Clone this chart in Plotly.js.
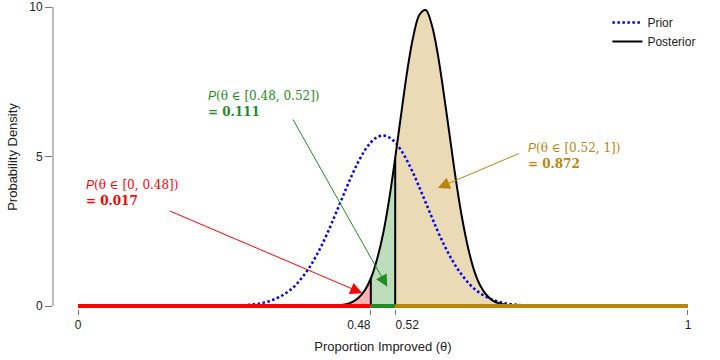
<!DOCTYPE html>
<html><head><meta charset="utf-8">
<script src="https://cdn.plot.ly/plotly-3.0.1.min.js"></script>
<style>html,body{margin:0;padding:0;background:#fff}#chart{width:720px;height:360px}</style>
</head><body><div id="chart"></div>
<script>
// Posterior density
const postTheta = [0, 0.40, 0.42, 0.43, 0.44, 0.45, 0.46, 0.47, 0.48, 0.49, 0.50, 0.51, 0.52, 0.53, 0.54, 0.55, 0.56, 0.57, 0.58, 0.59, 0.60, 0.61, 0.62, 0.63, 0.64, 0.65, 0.66, 0.67, 0.68, 0.69, 0.70, 0.71, 0.72, 0.74, 1];
const postDens  = [0, 0.00, 0.01, 0.03, 0.06, 0.14, 0.28, 0.52, 0.92, 1.55, 2.40, 3.55, 4.95, 6.45, 7.90, 9.05, 9.75, 9.90, 9.40, 8.40, 7.05, 5.60, 4.15, 2.90, 1.90, 1.15, 0.66, 0.36, 0.18, 0.09, 0.04, 0.02, 0.01, 0.00, 0];
// Prior density
const priorTheta = [0.27, 0.28, 0.29, 0.30, 0.31, 0.32, 0.33, 0.34, 0.35, 0.36, 0.37, 0.38, 0.39, 0.40, 0.41, 0.42, 0.43, 0.44, 0.45, 0.46, 0.47, 0.48, 0.49, 0.50,
                    0.51, 0.52, 0.53, 0.54, 0.55, 0.56, 0.57, 0.58, 0.59, 0.60, 0.61, 0.62, 0.63, 0.64, 0.65, 0.66, 0.67, 0.68, 0.69, 0.70, 0.71, 0.72, 0.73];
const priorDens  = [0.02, 0.04, 0.06, 0.09, 0.14, 0.21, 0.30, 0.42, 0.57, 0.77, 1.02, 1.31, 1.66, 2.05, 2.49, 2.97, 3.46, 3.95, 4.42, 4.84, 5.20, 5.47, 5.64, 5.70,
                    5.64, 5.47, 5.20, 4.84, 4.42, 3.95, 3.46, 2.97, 2.49, 2.05, 1.66, 1.31, 1.02, 0.77, 0.57, 0.42, 0.30, 0.21, 0.14, 0.09, 0.06, 0.04, 0.02];
const cutLow = 0.48, cutHigh = 0.52;
const regionLabels = ['[0, 0.48]', '[0.48, 0.52]', '[0.52, 1]'];
const regionProbs  = ['0.017', '0.111', '0.872'];
const xTickVals = [0, 0.48, 0.52, 1];
const xTickText = ['0', '0.48', '0.52', '1'];
const yTickVals = [0, 5, 10];
const yTickText = ['0', '5', '10'];

const RED = '#FF0000', GREEN = '#228B22', GOLD = '#B8860B';

function segment(lo, hi) {
  const xs = [], ys = [];
  postTheta.forEach((t, i) => { if (t >= lo - 1e-9 && t <= hi + 1e-9) { xs.push(t); ys.push(postDens[i]); } });
  return {xs, ys};
}
const sR = segment(0, cutLow), sG = segment(cutLow, cutHigh), sT = segment(cutHigh, 1);
const dLow = postDens[postTheta.indexOf(cutLow)], dHigh = postDens[postTheta.indexOf(cutHigh)];

const traces = [
  {x: sR.xs, y: sR.ys, mode: 'none', fill: 'tozeroy', fillcolor: 'rgba(255,0,0,0.3)', line: {shape: 'spline'}, showlegend: false, hoverinfo: 'skip'},
  {x: sG.xs, y: sG.ys, mode: 'none', fill: 'tozeroy', fillcolor: 'rgba(34,139,34,0.3)', line: {shape: 'spline'}, showlegend: false, hoverinfo: 'skip'},
  {x: sT.xs, y: sT.ys, mode: 'none', fill: 'tozeroy', fillcolor: 'rgba(184,134,11,0.3)', line: {shape: 'spline'}, showlegend: false, hoverinfo: 'skip'},
  {x: priorTheta, y: priorDens, mode: 'lines', name: 'Prior', line: {color: '#0000EE', width: 2.5, dash: '2.5px,2.5px', shape: 'spline'}},
  {x: postTheta, y: postDens, mode: 'lines', name: 'Posterior', line: {color: '#000', width: 2, shape: 'spline'}},
  {x: [cutLow, cutLow], y: [0, dLow], mode: 'lines', line: {color: '#000', width: 2}, showlegend: false, hoverinfo: 'skip'},
  {x: [cutHigh, cutHigh], y: [0, dHigh], mode: 'lines', line: {color: '#000', width: 2}, showlegend: false, hoverinfo: 'skip'},
  {x: [0, cutLow], y: [0, 0], mode: 'lines', line: {color: RED, width: 4}, showlegend: false, hoverinfo: 'skip'},
  {x: [cutLow, cutHigh], y: [0, 0], mode: 'lines', line: {color: GREEN, width: 4}, showlegend: false, hoverinfo: 'skip'},
  {x: [cutHigh, 1], y: [0, 0], mode: 'lines', line: {color: GOLD, width: 4}, showlegend: false, hoverinfo: 'skip'},
  // invisible anchors so the two overlay axes (for the shifted 0.48 / 0.52 labels) get drawn
  {x: [cutLow], y: [0], xaxis: 'x2', mode: 'markers', marker: {opacity: 0}, showlegend: false, hoverinfo: 'skip'},
  {x: [cutHigh], y: [0], xaxis: 'x3', mode: 'markers', marker: {opacity: 0}, showlegend: false, hoverinfo: 'skip'}
];

function label(i) {
  return '<span style="font-family:Liberation Sans;font-style:italic">P</span>(θ ∈ ' + regionLabels[i] + ')<br><b>= ' + regionProbs[i] + '</b>';
}
const textPos = [[0.0098, 4.35], [0.2098, 7.32], [0.7344, 5.59]];
const colors = [RED, GREEN, GOLD];
const arrows = [
  {x: 0.466, y: 0.43, ax: 0.148, ay: 3.2},
  {x: 0.507, y: 0.64, ax: 0.351, ay: 6.29},
  {x: 0.590, y: 3.95, ax: 0.725, ay: 5.12}
];
const annotations = [];
for (let i = 0; i < 3; i++) {
  annotations.push({xref: 'x', yref: 'y', x: textPos[i][0], y: textPos[i][1], xanchor: 'left', yanchor: 'top', align: 'left',
    showarrow: false, text: label(i), font: {family: 'DejaVu Serif, serif', size: 12, color: colors[i]}});
  annotations.push({xref: 'x', yref: 'y', axref: 'x', ayref: 'y', x: arrows[i].x, y: arrows[i].y, ax: arrows[i].ax, ay: arrows[i].ay,
    text: '', showarrow: true, arrowhead: 2, arrowsize: 2.4, arrowwidth: 1, arrowcolor: colors[i], standoff: 0});
}

const xRange = [-0.041, 1.041];
const endIdx = [0, 3], lowIdx = xTickVals.indexOf(cutLow), highIdx = xTickVals.indexOf(cutHigh);
const tickBase = {range: xRange, tickangle: 0, ticks: 'outside', ticklen: 5, tickcolor: '#777',
  showgrid: false, zeroline: false, showline: false, automargin: false, fixedrange: true};

const layout = {
  width: 720, height: 360,
  margin: {l: 53, r: 7, t: 5, b: 51},
  paper_bgcolor: '#fff', plot_bgcolor: '#fff',
  font: {family: 'Liberation Sans, Arial, sans-serif', size: 12, color: '#222'},
  xaxis: Object.assign({}, tickBase, {tickvals: endIdx.map(i => xTickVals[i]), ticktext: endIdx.map(i => xTickText[i]),
    title: {text: 'Proportion Improved (θ)', font: {size: 13}, standoff: 10}}),
  xaxis2: Object.assign({}, tickBase, {overlaying: 'x', anchor: 'y', side: 'bottom',
    tickvals: [xTickVals[lowIdx]], ticktext: [xTickText[lowIdx]], ticklabelshift: -12}),
  xaxis3: Object.assign({}, tickBase, {overlaying: 'x', anchor: 'y', side: 'bottom',
    tickvals: [xTickVals[highIdx]], ticktext: [xTickText[highIdx]], ticklabelshift: 12}),
  yaxis: {range: [-0.1, 10.067], tickvals: yTickVals, ticktext: yTickText, ticks: 'outside', ticklen: 7, tickcolor: '#777',
    showgrid: false, zeroline: false, showline: false, automargin: false, fixedrange: true,
    title: {text: 'Probability Density', font: {size: 13}, standoff: 8}},
  shapes: [{type: 'line', xref: 'paper', yref: 'y', x0: 0, x1: 0, y0: 0, y1: 10, line: {color: '#777', width: 1}}],
  legend: {x: 0.84, y: 0.99, xanchor: 'left', yanchor: 'top', bgcolor: 'rgba(0,0,0,0)', font: {size: 12}},
  annotations: annotations
};

Plotly.newPlot('chart', traces, layout, {displayModeBar: false, staticPlot: true});
</script>
</body></html>
